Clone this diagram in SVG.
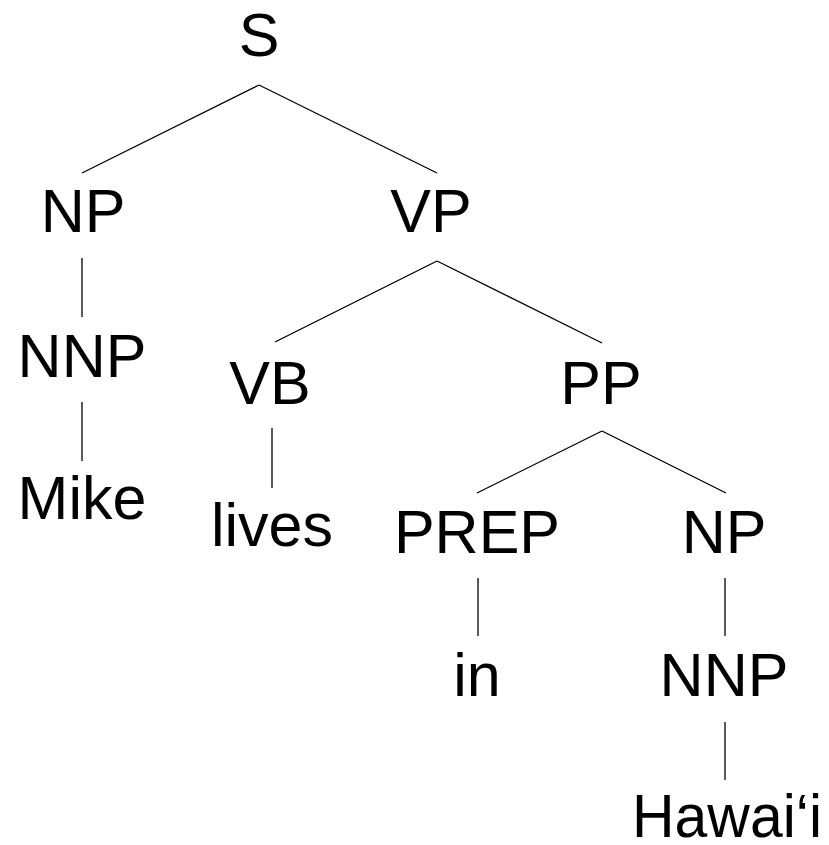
<svg xmlns="http://www.w3.org/2000/svg" width="829" height="845" viewBox="0 0 829 845">
<style>
text{font-family:"Liberation Sans","DejaVu Sans",sans-serif;font-size:61px;fill:#000;text-anchor:middle}
line{stroke:#000;stroke-width:1.3}
</style>
<rect width="829" height="845" fill="#fff"/>
<g id="connectors">
<line x1="259" y1="85" x2="82" y2="173"/>
<line x1="259" y1="85" x2="437" y2="173"/>
<line x1="82" y1="258" x2="82" y2="317"/>
<line x1="82" y1="402" x2="82" y2="461"/>
<line x1="437" y1="261" x2="275" y2="342"/>
<line x1="437" y1="261" x2="602" y2="343"/>
<line x1="272" y1="428" x2="272" y2="488"/>
<line x1="602" y1="431" x2="477" y2="493"/>
<line x1="602" y1="431" x2="726" y2="493"/>
<line x1="478" y1="578" x2="478" y2="636"/>
<line x1="725" y1="578" x2="725" y2="636"/>
<line x1="725" y1="722" x2="725" y2="780"/>
</g>
<g id="n-S"><text x="259" y="56">S</text></g>
<g id="n-NP1"><text x="83" y="232">NP</text></g>
<g id="n-VP"><text x="431" y="232">VP</text></g>
<g id="n-NNP1"><text x="82" y="377">NNP</text></g>
<g id="n-Mike"><text x="82" y="519">Mike</text></g>
<g id="n-VB"><text x="270" y="404">VB</text></g>
<g id="n-PP"><text x="601" y="404">PP</text></g>
<g id="n-lives"><text x="272" y="546">lives</text></g>
<g id="n-PREP"><text x="477" y="553">PREP</text></g>
<g id="n-NP2"><text x="724" y="553">NP</text></g>
<g id="n-in"><text x="477" y="696">in</text></g>
<g id="n-NNP2"><text x="724" y="696">NNP</text></g>
<g id="n-Hawaii"><text x="727" y="837" textLength="190" lengthAdjust="spacingAndGlyphs">Hawai‘i</text></g>
</svg>
